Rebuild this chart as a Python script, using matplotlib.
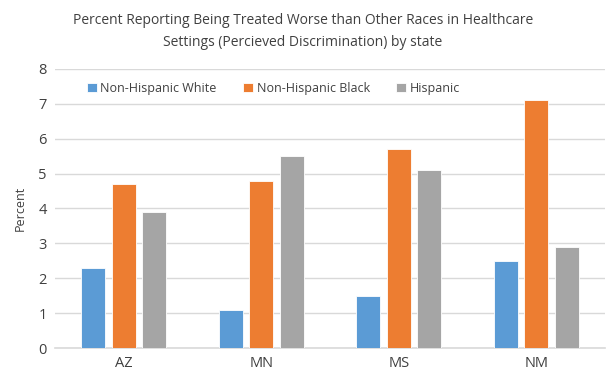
# Perceived discrimination in healthcare settings, by state
import numpy as np
import matplotlib.pyplot as plt

plt.rcParams['font.family'] = ['Open Sans', 'DejaVu Sans']

states = ["AZ", "MN", "MS", "NM"]
groups = ["Non-Hispanic White", "Non-Hispanic Black", "Hispanic"]
white = [2.3, 1.1, 1.5, 2.5]
black = [4.7, 4.8, 5.7, 7.1]
hispanic = [3.9, 5.5, 5.1, 2.9]
colors = ["#5B9BD5", "#ED7D31", "#A5A5A5"]

fig = plt.figure(figsize=(6.06, 3.73), dpi=100)
ax = fig.add_axes([55 / 606, 25 / 373, 550 / 606, 279 / 373])

x = np.arange(len(states))
step = 0.222
width = 0.175
for i, (vals, name) in enumerate(zip([white, black, hispanic], groups)):
    ax.bar(x + (i - 1) * step, vals, width, color=colors[i], label=name,
           edgecolor="white", linewidth=0.6, zorder=3)

ax.set_xlim(-0.5, 3.5)
ax.set_ylim(0, 8)
ax.set_yticks(range(0, 9))
ax.set_xticks(x)
ax.set_xticklabels(states)
ax.yaxis.grid(True, color="#D9D9D9", linewidth=1)
ax.set_axisbelow(True)
for s in ["top", "right", "left"]:
    ax.spines[s].set_visible(False)
ax.spines["bottom"].set_color("#D9D9D9")
ax.spines["bottom"].set_linewidth(1.2)
ax.tick_params(length=0, labelsize=10.5, colors="#404040", pad=6)
ax.set_ylabel("Percent", fontsize=9, color="#404040", labelpad=8)

ax.legend(loc="upper center", bbox_to_anchor=(0.397, 0.995), ncol=3, frameon=False,
          fontsize=9, handlelength=0.8, handleheight=0.8, columnspacing=2.1,
          handletextpad=0.3, labelcolor="#404040")

fig.text(0.5, 0.965, "Percent Reporting Being Treated Worse than Other Races in Healthcare\n"
         "Settings (Percieved Discrimination) by state",
         ha="center", va="top", fontsize=10, color="#404040", linespacing=1.6)

fig.savefig("out.png")
